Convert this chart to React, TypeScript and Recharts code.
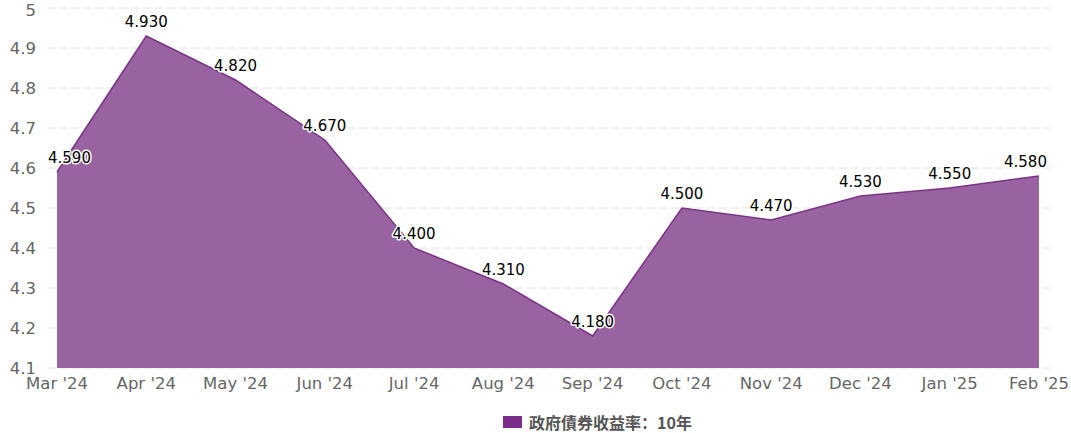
import { AreaChart, Area, XAxis, YAxis, CartesianGrid, Legend, LabelList } from "recharts";

const MONTHS = ["Mar '24", "Apr '24", "May '24", "Jun '24", "Jul '24", "Aug '24", "Sep '24", "Oct '24", "Nov '24", "Dec '24", "Jan '25", "Feb '25"];
const YIELD_10Y = [4.59, 4.93, 4.82, 4.67, 4.4, 4.31, 4.18, 4.5, 4.47, 4.53, 4.55, 4.58];
const Y_TICKS = [4.1, 4.2, 4.3, 4.4, 4.5, 4.6, 4.7, 4.8, 4.9, 5];
const SERIES_NAME = "政府債券收益率：10年";

const data = MONTHS.map((m, i) => ({ month: m, value: YIELD_10Y[i] }));

const FONT = "'DejaVu Sans', Verdana, sans-serif";

function PointLabel(props: any) {
  const { x, y, value } = props;
  const text = Number(value).toFixed(3);
  const w = text.length * 9;
  let cx = x;
  if (cx - w / 2 < 47) cx = 47 + w / 2;
  if (cx + w / 2 > 1048) cx = 1048 - w / 2;
  return (
    <text
      x={cx}
      y={y - 14}
      textAnchor="middle"
      dominantBaseline="central"
      fontFamily={FONT}
      fontSize={15}
      fill="#000"
      stroke="#fff"
      strokeWidth={3}
      strokeLinejoin="round"
      paintOrder="stroke"
    >
      {text}
    </text>
  );
}

function LegendBox() {
  return (
    <div style={{ display: "flex", alignItems: "center", justifyContent: "center", paddingLeft: 140, height: 22 }}>
      <span style={{ display: "inline-block", width: 19, height: 12, background: "#7b2d8b", marginRight: 7 }} />
      <span style={{ fontFamily: "'Noto Sans CJK SC', sans-serif", fontWeight: 700, fontSize: 16, color: "#555" }}>{SERIES_NAME}</span>
    </div>
  );
}

export default function App() {
  return (
    <div style={{ position: "absolute", left: 0, top: 0 }}>
      <AreaChart width={1071} height={433} data={data} margin={{ top: 8, right: 16, left: 0, bottom: 13 }}>
        <CartesianGrid vertical={false} stroke="#e0e0e0" strokeDasharray="8 4" />
        <XAxis
          dataKey="month"
          padding={{ left: 10, right: 16 }}
          axisLine={false}
          tickLine={false}
          tickSize={0}
          tickMargin={9}
          height={30}
          interval={0}
          tick={{ fontSize: 16.5, fill: "#666", fontFamily: FONT }}
        />
        <YAxis
          domain={[4.1, 5]}
          ticks={Y_TICKS}
          width={47}
          axisLine={false}
          tickLine={false}
          tickSize={0}
          tickMargin={11}
          tickFormatter={(v) => String(v)}
          tick={{ fontSize: 16.5, fill: "#666", fontFamily: FONT }}
        />
        <Legend verticalAlign="bottom" wrapperStyle={{ bottom: 0 }} content={<LegendBox />} />
        <Area
          type="linear"
          dataKey="value"
          stroke="#7a3486"
          strokeWidth={1.5}
          fill="#9962a0"
          fillOpacity={1}
          baseValue={4.1}
          isAnimationActive={false}
          dot={false}
          activeDot={false}
        >
          <LabelList dataKey="value" content={<PointLabel />} />
        </Area>
      </AreaChart>
    </div>
  );
}
